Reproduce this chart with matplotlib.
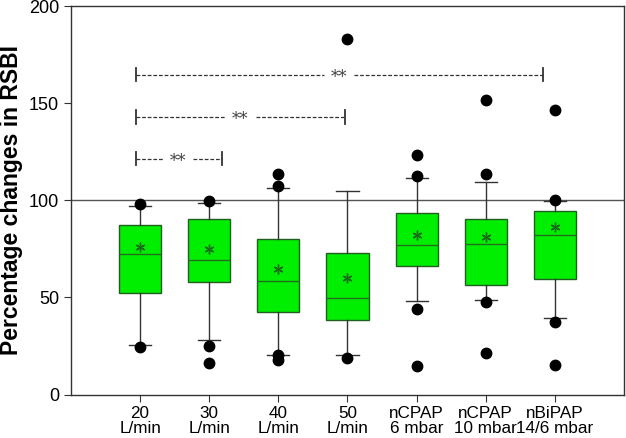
import matplotlib
matplotlib.use("Agg")
import matplotlib.pyplot as plt

categories = ["20\nL/min", "30\nL/min", "40\nL/min", "50\nL/min",
              "nCPAP\n6 mbar", "nCPAP\n10 mbar", "nBiPAP\n14/6 mbar"]
q1 = [52.1, 58.1, 42.6, 38.5, 66.1, 56.5, 59.6]
med = [72.5, 69.4, 58.6, 49.8, 77.1, 77.3, 82.3]
q3 = [87.5, 90.4, 80.3, 72.8, 93.5, 90.2, 94.7]
means = [75.9, 75.1, 64.4, 60.1, 82.3, 81.1, 86.2]
whislo = [25.6, 28.2, 20.6, 20.1, 48.1, 48.8, 39.3]
whishi = [97.1, 98.8, 106.3, 104.8, 111.7, 109.6, 99.6]
fliers = [[98.2, 24.4],
          [99.6, 25.1, 16.0],
          [107.2, 113.8, 20.1, 17.9],
          [183.0, 18.7],
          [112.4, 123.2, 43.8, 14.6],
          [113.6, 151.5, 47.6, 21.5],
          [100.0, 146.5, 37.1, 15.1]]

# significance brackets: (x_start, x_end, y, star_x)
sig_y = [164.7, 143.0, 121.5]
sig_x0 = [0.94, 0.94, 0.94]
sig_x1 = [6.83, 3.97, 2.18]
sig_star = [3.88, 2.45, 1.55]

fig = plt.figure(figsize=(6.26, 4.38), dpi=100)
ax = fig.add_axes([0.1134, 0.0993, 0.8834, 0.8867])

stats = []
for i in range(len(categories)):
    stats.append(dict(q1=q1[i], med=med[i], q3=q3[i], mean=means[i],
                      whislo=whislo[i], whishi=whishi[i], fliers=fliers[i]))

positions = list(range(1, len(categories) + 1))
ax.axhline(100, color="#555555", lw=1.0, zorder=0)

ax.bxp(stats, positions=positions, widths=0.61, patch_artist=True,
       showmeans=True, showfliers=True,
       boxprops=dict(facecolor="#00ee00", edgecolor="#1f5f1f", lw=1.0),
       medianprops=dict(color="#1f6f1f", lw=1.0),
       whiskerprops=dict(color="#333333", lw=1.0),
       capprops=dict(color="#333333", lw=1.0),
       capwidths=0.32,
       meanprops=dict(marker=(6, 2, 0), markerfacecolor="#1a6b1a",
                      markeredgecolor="#1a6b1a", markeredgewidth=1.0,
                      markersize=7, linestyle="none"),
       flierprops=dict(marker="o", markerfacecolor="black",
                       markeredgecolor="black", markersize=7.5))

for y, x0, x1, xs in zip(sig_y, sig_x0, sig_x1, sig_star):
    gap = 0.22
    ax.plot([x0, xs - gap], [y, y], color="#333333", lw=0.9, ls=(0, (3, 1.5)))
    ax.plot([xs + gap, x1], [y, y], color="#333333", lw=0.9, ls=(0, (3, 1.5)))
    ax.plot([x0, x0], [y - 3.5, y + 3.5], color="#333333", lw=1.3)
    ax.plot([x1, x1], [y - 3.5, y + 3.5], color="#333333", lw=1.3)
    ax.text(xs, y - 1.5, "**", ha="center", va="center", fontsize=12,
            color="#444444", family="DejaVu Serif")

ax.set_xlim(0, 8)
ax.set_ylim(0, 200)
ax.set_yticks([0, 50, 100, 150, 200])
ax.set_xticks(positions)
ax.set_xticklabels(categories, fontsize=12.3, family="Liberation Sans", linespacing=1.0)
for lab in ax.get_yticklabels():
    lab.set_fontsize(13)
    lab.set_family("Liberation Sans")
ax.set_ylabel("Percentage changes in RSBI", fontsize=16.5, fontweight="bold",
              family="Liberation Sans", labelpad=4)
for s in ax.spines.values():
    s.set_color("#333333")
    s.set_linewidth(1.0)
ax.tick_params(direction="out", length=5, color="#333333")
ax.tick_params(axis="x", pad=3)

fig.savefig("out.png", dpi=100)
